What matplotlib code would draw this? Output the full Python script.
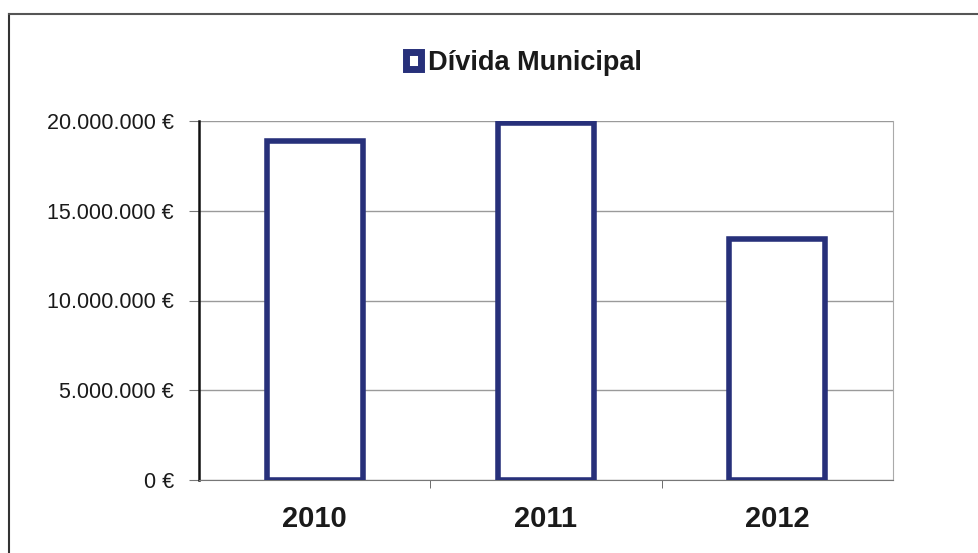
import matplotlib.pyplot as plt
from matplotlib.ticker import FuncFormatter
from matplotlib.lines import Line2D

plt.rcParams['font.family'] = ['Liberation Sans', 'DejaVu Sans']

# data
years = ['2010', '2011', '2012']
divida = [18890000, 19890000, 13430000]
y_ticks = [0, 5000000, 10000000, 15000000, 20000000]

navy = '#27307a'

fig = plt.figure(figsize=(9.79, 5.53), dpi=100)
ax = fig.add_axes([199 / 979, 73 / 553, 694 / 979, 359 / 553])

x = range(len(years))
bars = ax.bar(x, divida, width=0.415, color='white', edgecolor=navy,
              linewidth=4, label='Dívida Municipal', zorder=3)

ax.set_xlim(-0.5, 2.5)
ax.set_ylim(0, 20000000)
ax.set_yticks(y_ticks)


def euro(v, pos):
    return '{:,.0f} €'.format(v).replace(',', '.')


ax.yaxis.set_major_formatter(FuncFormatter(euro))
ax.set_xticks(list(x))
ax.set_xticklabels(years, fontsize=21, fontweight='bold', color='#1a1a1a')
ax.set_xticks([0.5, 1.5], minor=True)
ax.tick_params(axis='x', which='major', length=0, pad=18)
ax.tick_params(axis='x', which='minor', length=6, color='#555555')
ax.tick_params(axis='y', length=7, labelsize=15.5, colors='#1a1a1a', pad=11)
ax.tick_params(axis='y', color='#777777')

ax.grid(axis='y', color='#9a9a9a', linewidth=1, zorder=0)
ax.spines['top'].set_visible(False)
ax.spines['right'].set_color('#aaaaaa')
ax.spines['left'].set_color('#111111')
ax.spines['left'].set_linewidth(1.8)
ax.spines['bottom'].set_color('#777777')

leg = fig.legend(loc='center', bbox_to_anchor=(524 / 979, 1 - 63 / 553),
                 frameon=False, handlelength=0.55, handleheight=0.55,
                 handletextpad=0.25,
                 prop={'weight': 'bold', 'size': 19.5})
leg.legend_handles[0].set_linewidth(5)
for t in leg.get_texts():
    t.set_color('#1a1a1a')

# outer chart frame (only top and left visible in the scan)
fig.add_artist(Line2D([9 / 979, 9 / 979], [0, 1 - 14 / 553], color='#333333', lw=1.5))
fig.add_artist(Line2D([9 / 979, 1], [1 - 14 / 553, 1 - 14 / 553], color='#555555', lw=1.5))

fig.savefig('out.png', dpi=100)
